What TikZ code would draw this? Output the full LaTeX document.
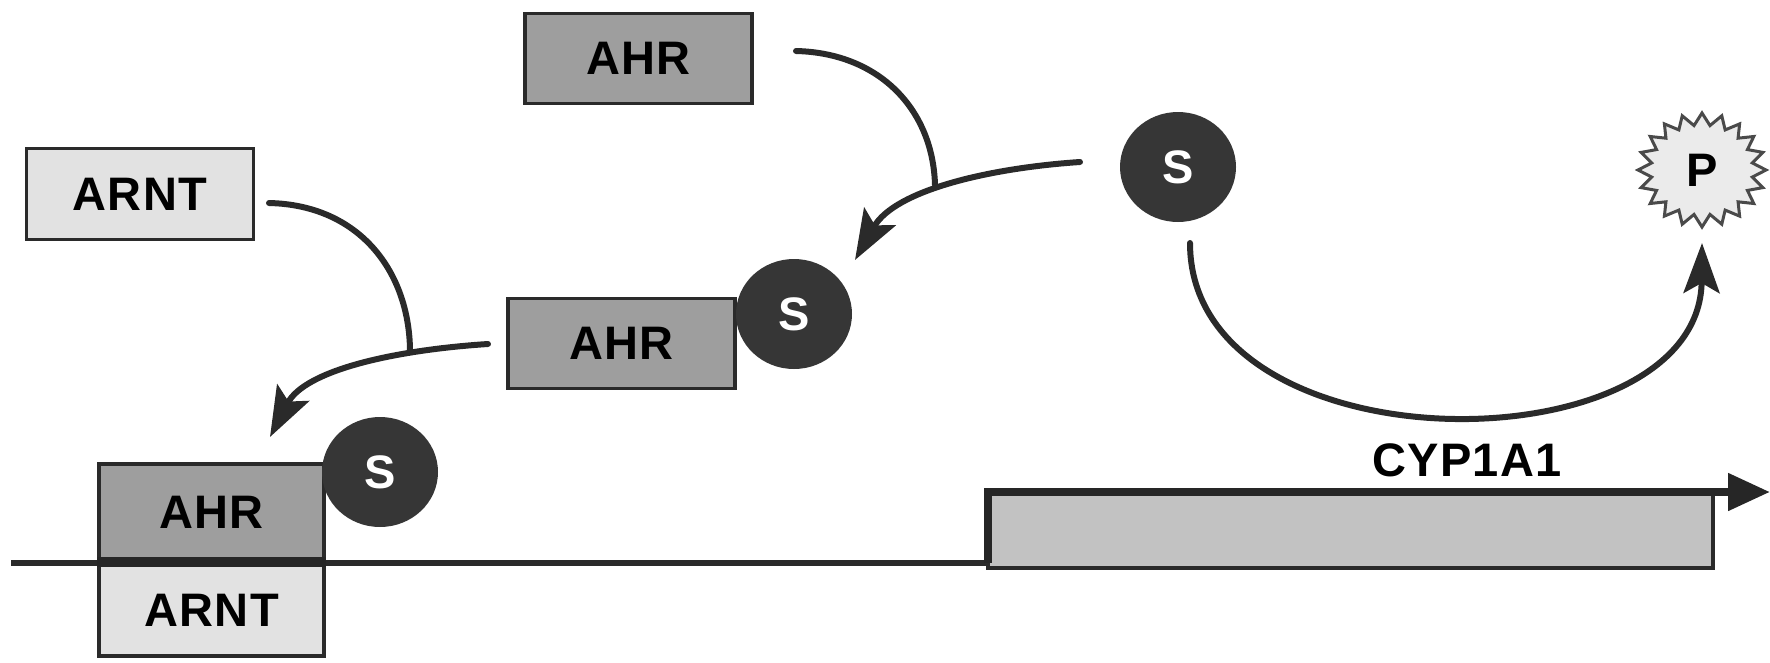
\documentclass[tikz,border=0pt]{standalone}
\usepackage{fontspec}
\setmainfont{Liberation Sans}
\usetikzlibrary{arrows.meta,shapes.geometric}
\definecolor{ahrgray}{HTML}{9E9E9E}
\definecolor{arntgray}{HTML}{E2E2E2}
\definecolor{sdark}{HTML}{363636}
\definecolor{cypgray}{HTML}{C2C2C2}
\definecolor{edge}{HTML}{2A2A2A}
\newfontfamily\lblfont[LetterSpace=3]{Liberation Sans}
\tikzset{
  lbl/.style={font=\fontsize{47}{50}\lblfont\bfseries},
  protbox/.style={draw=edge, line width=3.5pt, inner sep=0pt, lbl},
  ahrbox/.style={protbox, fill=ahrgray, minimum width=227pt, minimum height=90pt},
  arntbox/.style={protbox, fill=arntgray, minimum width=227pt, minimum height=91pt},
  sub/.style={ellipse, draw=sdark, fill=sdark, line width=2pt, minimum width=114pt, minimum height=108pt, inner sep=0pt, text=white, lbl},
  flow/.style={draw=edge, line width=6pt, line cap=round},
  flowarrow/.style={flow, -{Stealth[length=50pt,width=36pt,inset=10pt]}}
}
\begin{document}
\begin{tikzpicture}[x=1pt,y=-1pt]
\useasboundingbox (0,0) rectangle (1770,662);
% proteins
\node[ahrbox] (ahr1) at (638.5,58.5) {AHR};
\node[arntbox] (arnt1) at (140,194) {ARNT};
\node[ahrbox] (ahr2) at (621.5,343.5) {AHR};
\node[sub] (s2) at (794,314) {S};
\node[sub] (s1) at (1178,167) {S};
% product starburst
\fill[arntgray!70!white] plot[samples=41, domain=0:40] ({1702+(mod(\x,2)==0?64:51)*cos(90+\x*9)}, {170-(mod(\x,2)==0?57:45)*sin(90+\x*9)}) -- cycle;
\draw[draw=edge!85, line width=3pt, line join=miter] plot[samples=41, domain=0:40] ({1702+(mod(\x,2)==0?64:51)*cos(90+\x*9)}, {170-(mod(\x,2)==0?57:45)*sin(90+\x*9)}) -- cycle;
\node[lbl] (p) at (1702,170) {P};
% DNA and bound complex
\coordinate (dnaL) at (11,563);
\coordinate (dnaR) at (988,563);
\coordinate (cypTop) at (988,492);
\coordinate (cypEnd) at (1770,492);
\draw[draw=edge, fill=cypgray, line width=3.5pt] (988,492) rectangle (1713,568);
\node[ahrbox, minimum width=225pt, minimum height=96pt] (ahr3) at (211.5,512) {AHR};
\node[arntbox, minimum width=225pt, minimum height=92pt] (arnt3) at (211.5,610) {ARNT};
\node[sub] (s3) at (380,472) {S};
\draw[draw=edge, line width=6pt] (dnaL) -- (dnaR);
\draw[draw=black!85, line width=10pt] (ahr3.south west) -- (ahr3.south east);
\draw[draw=black!85, line width=8pt, -{Triangle[length=42pt,width=36pt]}] (dnaR) -- (cypTop) -- (cypEnd);
\node[lbl] (cyp) at (1467,460) {CYP1A1};
% connectors
\coordinate (a1s) at (796,51);
\coordinate (j1) at (935,185);
\coordinate (s1l) at (1080,162);
\coordinate (t1) at (855,260);
\coordinate (n1s) at (269,203);
\coordinate (j2) at (410,350);
\coordinate (a2l) at (488,344);
\coordinate (t2) at (270,437);
\coordinate (s1b) at (1190,243);
\coordinate (tp) at (1702,243);
\draw[flow] (a1s) .. controls (880,53) and (933,110) .. (j1);
\draw[flowarrow] (s1l) .. controls (990,168) and (895,190) .. (t1);
\draw[flow] (n1s) .. controls (360,205) and (409,272) .. (j2);
\draw[flowarrow] (a2l) .. controls (395,350) and (305,370) .. (t2);
\draw[flowarrow] (s1b) .. controls (1190,472) and (1700,470) .. (tp);
\end{tikzpicture}
\end{document}
